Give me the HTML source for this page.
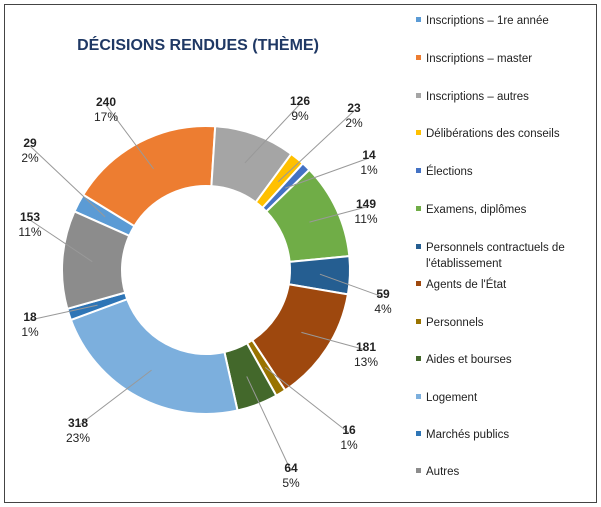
<!DOCTYPE html>
<html><head><meta charset="utf-8"><style>
body{margin:0;background:#fff;}
svg{display:block;font-family:"Liberation Sans",sans-serif;}
</style></head><body>
<svg width="601" height="507" viewBox="0 0 601 507">
<rect x="4.5" y="4.5" width="592" height="498" fill="#fff" stroke="#444" stroke-width="1"/>
<text x="198" y="50" text-anchor="middle" font-size="16" font-weight="bold" fill="#1F3864">DÉCISIONS RENDUES (THÈME)</text>
<g id="slices"></g><g id="lines"></g><g id="labels"></g><g id="legend"></g>
</svg>
<script>
const categories=["Inscriptions – 1re année","Inscriptions – master","Inscriptions – autres","Délibérations des conseils","Élections","Examens, diplômes","Personnels contractuels de|l'établissement","Agents de l'État","Personnels","Aides et bourses","Logement","Marchés publics","Autres"];
const values=[29,240,126,23,14,149,59,181,16,64,318,18,153];
const colors=["#5B9BD5","#ED7D31","#A5A5A5","#FFC000","#4472C4","#70AD47","#255E91","#9E480E","#997300","#43682B","#7CAFDD","#2E75B6","#8C8C8C"];
const labelPos=[[30,142],[106,101],[300,100],[354,107],[369,154],[366,203],[383,293],[366,346],[349,429],[291,467],[78,422],[30,316],[30,216]];
const legendY=[20,58,96,133,171,209,247,284,322,359,397,434,471];
const NS="http://www.w3.org/2000/svg";
const cx=206,cy=270,R=144,r=84,start=-66;
const total=values.reduce((a,b)=>a+b,0);
function pt(deg,rad){const a=deg*Math.PI/180;return [cx+rad*Math.sin(a),cy-rad*Math.cos(a)];}
function mk(tag,attrs,parent){const e=document.createElementNS(NS,tag);for(const k in attrs)e.setAttribute(k,attrs[k]);parent.appendChild(e);return e;}
const gs=document.getElementById('slices'),gl=document.getElementById('lines'),gt=document.getElementById('labels'),gg=document.getElementById('legend');
let acc=0;
values.forEach((v,i)=>{
  const a0=start+acc/total*360,a1=start+(acc+v)/total*360;acc+=v;
  const [x0,y0]=pt(a0,R),[x1,y1]=pt(a1,R),[x2,y2]=pt(a1,r),[x3,y3]=pt(a0,r);
  const lg=(a1-a0)>180?1:0;
  const p=mk('path',{d:`M${x0},${y0}A${R},${R} 0 ${lg} 1 ${x1},${y1}L${x2},${y2}A${r},${r} 0 ${lg} 0 ${x3},${y3}Z`,fill:colors[i],stroke:'#fff','stroke-width':2},gs);
  
  
  const mid=(a0+a1)/2;const [mx,my]=pt(mid,114);
  const [lx,ly]=labelPos[i];
  const ln=mk('line',{x1:lx,y1:ly+4,x2:mx,y2:my,stroke:'#999','stroke-width':1},gl);
  
  
  const t1=mk('text',{x:lx,y:ly+5,'text-anchor':'middle','font-size':12,'font-weight':'bold',fill:'#222'},gt);
  t1.textContent=v;
  
  
  const t2=mk('text',{x:lx,y:ly+20,'text-anchor':'middle','font-size':12,fill:'#222'},gt);
  t2.textContent=Math.round(v/total*100)+'%';
  
  
  const y=legendY[i];
  const sq=mk('rect',{x:416,y:y-3,width:5,height:5,fill:colors[i]},gg);
  
  
  const parts=categories[i].split('|');
  parts.forEach((s,j)=>{
    const t=mk('text',{x:426,y:y+4+j*16,'font-size':11.5,fill:'#222'},gg);
    t.textContent=s;
    
    
  });
});
// hole backdrop lines hidden behind slices order fix
gl.parentNode.insertBefore(gl,gs.nextSibling);
</script>
</body></html>
